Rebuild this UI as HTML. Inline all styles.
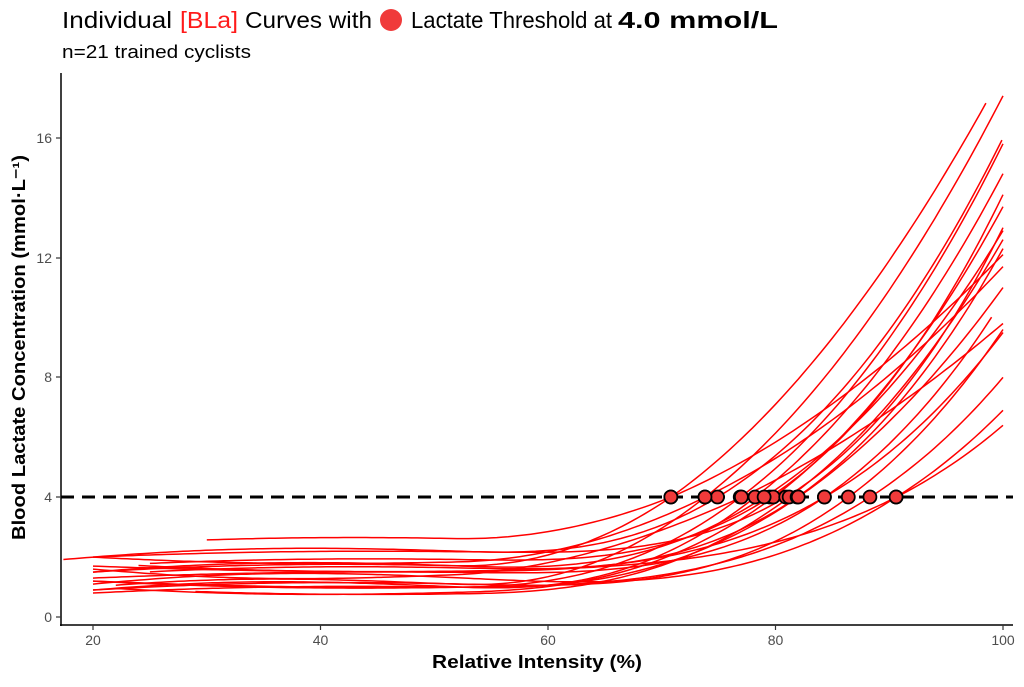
<!DOCTYPE html>
<html><head><meta charset="utf-8"><style>
body{margin:0;background:#fff;}
svg text{font-family:"Liberation Sans",sans-serif;}
</style></head><body>
<svg id="s" width="1024" height="682" viewBox="0 0 1024 682" xmlns="http://www.w3.org/2000/svg">
<rect width="1024" height="682" fill="#fff"/>
<g font-size="23" fill="#000">
<text x="62" y="28" textLength="110" lengthAdjust="spacingAndGlyphs">Individual</text>
<text x="180" y="28" fill="#ff1a1a" textLength="58" lengthAdjust="spacingAndGlyphs">[BLa]</text>
<text x="245" y="28" textLength="127" lengthAdjust="spacingAndGlyphs">Curves with</text>
<circle cx="391" cy="20" r="11" fill="#f03a3a"/>
<text x="411" y="28" textLength="201" lengthAdjust="spacingAndGlyphs">Lactate Threshold at</text>
<text x="618" y="28" font-weight="bold" textLength="160" lengthAdjust="spacingAndGlyphs">4.0 mmol/L</text>
</g>
<text x="62" y="58" font-size="18" fill="#000" textLength="189" lengthAdjust="spacingAndGlyphs">n=21 trained cyclists</text>
<g id="curves" fill="none" stroke="#ff0000" stroke-width="1.5"></g>
<line x1="61" y1="497" x2="1013" y2="497" stroke="#000" stroke-width="3" stroke-dasharray="13,8"/>
<g id="pts" fill="#f03a3a" stroke="#000" stroke-width="1.8"></g>
<line x1="61" y1="73" x2="61" y2="626" stroke="#000" stroke-width="1.5"/>
<line x1="60" y1="625" x2="1013" y2="625" stroke="#000" stroke-width="1.5"/>
<g stroke="#333" stroke-width="1.2">
<line x1="56" y1="617" x2="61" y2="617"/><line x1="56" y1="497" x2="61" y2="497"/><line x1="56" y1="377" x2="61" y2="377"/><line x1="56" y1="258" x2="61" y2="258"/><line x1="56" y1="138" x2="61" y2="138"/>
<line x1="93" y1="625" x2="93" y2="630"/><line x1="320.5" y1="625" x2="320.5" y2="630"/><line x1="548" y1="625" x2="548" y2="630"/><line x1="775.5" y1="625" x2="775.5" y2="630"/><line x1="1003" y1="625" x2="1003" y2="630"/>
</g>
<g font-size="14" fill="#4d4d4d" text-anchor="end">
<text x="52" y="622">0</text><text x="52" y="502">4</text><text x="52" y="382">8</text><text x="52" y="263">12</text><text x="52" y="143">16</text>
</g>
<g font-size="14" fill="#4d4d4d" text-anchor="middle">
<text x="93" y="645">20</text><text x="320.5" y="645">40</text><text x="548" y="645">60</text><text x="775.5" y="645">80</text><text x="1003" y="645">100</text>
</g>
<text x="432" y="668" font-size="18" font-weight="bold" textLength="210" lengthAdjust="spacingAndGlyphs">Relative Intensity (%)</text>
<text transform="translate(25,540) rotate(-90)" font-size="18" font-weight="bold" textLength="385" lengthAdjust="spacingAndGlyphs">Blood Lactate Concentration (mmol·L⁻¹)</text>
</svg>
<script>
var X=function(x){return 93+(x-20)*11.375},Y=function(y){return 617-y*29.95};
var d=[[70.8,18.2,1.5,20,98.8,0.6,1],[73.8,17.4,1.0,22,100,0.4,2],[74.9,16.0,2.0,17.4,100,0.5,1.5],[76.9,15.8,1.2,20,100,-0.5,1],[78.2,14.8,0.9,20,100,0.4,2],[79.5,14.1,1.7,25,100,0.5,1],[79.8,13.7,1.0,22,100,-0.4,1.5],[80.9,13.0,2.0,20,100,0.4,1],[81.2,12.6,1.0,29,100,-0.5,1],[81.9,12.3,1.4,25,100,0.5,1.2],[70.8,12.1,2.4,30,100,0.7,0.8],[73.8,11.7,2.0,20,100,-0.4,1.3],[84.3,10.6,1.3,20,99.3,0.4,1],[77,9.8,1.6,20,100,-0.5,1.7],[86.4,9.6,0.9,20,100,0.4,1.4],[88.3,8.0,1.2,20,100,-0.4,1],[90.6,6.9,1.1,20,100,0.5,1.8],[90.6,6.4,1.8,24,100,-0.5,1.1],[79,12.9,1.5,20,100,0.5,1.6],[82,11,0.8,20,100,0.4,1.2],[84.3,9.5,1.7,20,100,-0.4,0.9]];
var g=document.getElementById('curves'),p=document.getElementById('pts'),ns='http://www.w3.org/2000/svg';
d.forEach(function(c){var xt=c[0],ye=c[1],b=c[2],x0=Math.min(52,xt-15);
 var pw=Math.log((ye-b)/(4-b))/Math.log((100-x0)/(xt-x0));var a=(4-b)/Math.pow(xt-x0,pw);
 var w=function(x){return c[5]*Math.sin((x-20)/80*Math.PI*c[6])*Math.max(0,1-(x-20)/(xt-20));};
 var f=function(x){return b+w(x)+(x>x0?a*Math.pow(x-x0,pw):0);};
 var s='';for(var x=c[3];x<=c[4]+0.001;x+=0.5){s+=(s?'L':'M')+X(x).toFixed(1)+' '+Y(f(x)).toFixed(1);}
 var e=document.createElementNS(ns,'path');e.setAttribute('d',s);g.appendChild(e);
 var q=document.createElementNS(ns,'circle');q.setAttribute('cx',X(xt));q.setAttribute('cy',497);q.setAttribute('r',6.5);p.appendChild(q);});
</script>
</body></html>
